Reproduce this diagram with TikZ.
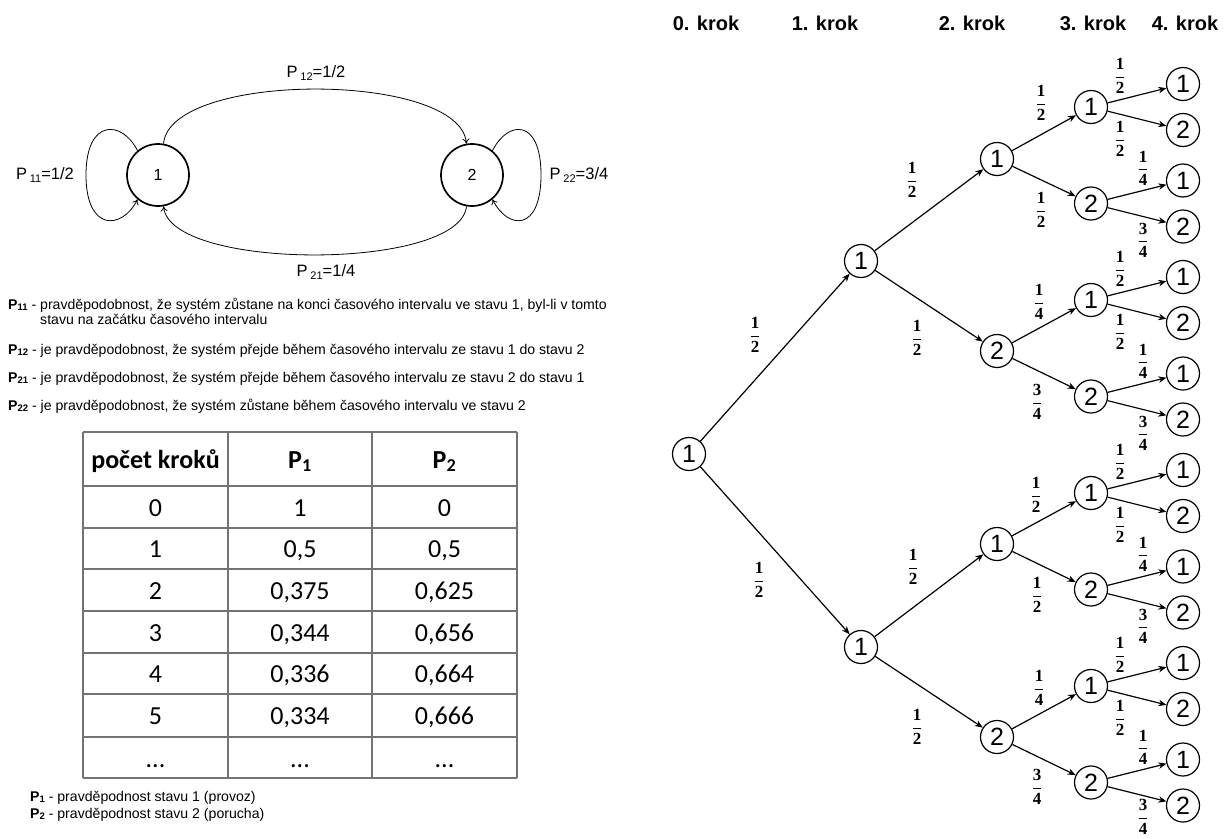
\documentclass[tikz,border=0pt]{standalone}
\usepackage{amsmath}
\usepackage{fontspec}
\setmainfont{Liberation Sans}
\newfontfamily\calibri{Carlito}
\newfontfamily\frfont{Liberation Serif}
\usetikzlibrary{arrows.meta}

% bold stacked fraction used on the tree edges
\newcommand\fr[2]{\ensuremath{\displaystyle\frac{\text{\frfont\bfseries #1}}{\text{\frfont\bfseries #2}}}}
% subscripted transition symbol
\newcommand\psub[1]{P\,\raisebox{-3pt}{\fontsize{11}{11}\selectfont #1}}
\newcommand\pbold[1]{\textbf{P}\raisebox{-1.5pt}{\fontsize{9.5}{10}\selectfont\bfseries #1}}

\begin{document}
\begin{tikzpicture}[x=1pt,y=-1pt,
  statec/.style={circle,draw,line width=1.7pt,minimum size=62pt,inner sep=0pt,font=\fontsize{16}{16}\selectfont},
  sarrow/.style={-{To[length=5pt,width=7pt]},line width=0.8pt},
  slabel/.style={font=\fontsize{16.5}{18}\selectfont,inner sep=0pt},
  desc/.style={anchor=base west,font=\fontsize{14.1}{16}\selectfont,inner sep=0pt},
  tnode/.style={circle,draw,line width=1.2pt,minimum size=33pt,inner sep=0pt,font=\fontsize{25}{25}\selectfont},
  tedge/.style={-{Stealth[length=8pt,width=6.5pt]},line width=1.2pt},
  flab/.style={font=\fontsize{17}{19}\selectfont,inner sep=0pt},
  head/.style={font=\fontsize{20}{22}\selectfont\bfseries,inner sep=0pt},
  tline/.style={draw=black!55,line width=1.3pt},
  cell/.style={font=\calibri\fontsize{26}{28}\selectfont,inner sep=0pt,anchor=base}
]
\useasboundingbox[fill=white] (0,0) rectangle (1228,838);

% ---------- two-state transition diagram ----------
\node[statec] (s1) at (158,175) {1};
\node[statec] (s2) at (472,175) {2};
\draw[sarrow] (s1.80) .. controls (170,71) and (460,71) .. (s2.100);
\draw[sarrow] (s2.-100) .. controls (460,271) and (170,271) .. (s1.-80);
\draw[sarrow] (s1.130) .. controls (122,120) and (86,118) .. (86,175)
                       .. controls (86,232) and (122,230) .. (s1.230);
\draw[sarrow] (s2.50) .. controls (508,120) and (541,118) .. (541,175)
                      .. controls (541,232) and (508,230) .. (s2.-50);
\node[slabel] (l12) at (316,73) {\psub{12}=1/2};
\node[slabel] (l21) at (326,272) {\psub{21}=1/4};
\node[slabel] (l11) at (45,175) {\psub{11}=1/2};
\node[slabel] (l22) at (579,175) {\psub{22}=3/4};

% ---------- explanations ----------
\node[desc] (d11) at (8,309) {\pbold{11} - pravděpodobnost, že systém zůstane na konci časového intervalu ve stavu 1, byl-li v tomto};
\node[desc] (d11b) at (40,324) {stavu na začátku časového intervalu};
\node[desc] (d12) at (8,354) {\pbold{12} - je pravděpodobnost, že systém přejde během časového intervalu ze stavu 1 do stavu 2};
\node[desc] (d21) at (8,382) {\pbold{21} - je pravděpodobnost, že systém přejde během časového intervalu ze stavu 2 do stavu 1};
\node[desc] (d22) at (8,410) {\pbold{22} - je pravděpodobnost, že systém zůstane během časového intervalu ve stavu 2};

% ---------- table ----------
\foreach \yy in {432,486,528,569,611,653,694,737,778}
  \draw[tline] (83,\yy) -- (517,\yy);
\foreach \xx in {83,228,372,517}
  \draw[tline] (\xx,432) -- (\xx,778);
\node[cell] (h0) at (155.5,468) {\bfseries počet kroků};
\node[cell] (h1) at (300,468) {\bfseries P\textsubscript{1}};
\node[cell] (h2) at (444.5,468) {\bfseries P\textsubscript{2}};
\node[cell] (r0a) at (155.5,516) {0};  \node[cell] (r0b) at (300,516) {1};     \node[cell] (r0c) at (444.5,516) {0};
\node[cell] (r1a) at (155.5,557) {1};  \node[cell] (r1b) at (300,557) {0,5};   \node[cell] (r1c) at (444.5,557) {0,5};
\node[cell] (r2a) at (155.5,599) {2};  \node[cell] (r2b) at (300,599) {0,375}; \node[cell] (r2c) at (444.5,599) {0,625};
\node[cell] (r3a) at (155.5,641) {3};  \node[cell] (r3b) at (300,641) {0,344}; \node[cell] (r3c) at (444.5,641) {0,656};
\node[cell] (r4a) at (155.5,682) {4};  \node[cell] (r4b) at (300,682) {0,336}; \node[cell] (r4c) at (444.5,682) {0,664};
\node[cell] (r5a) at (155.5,724) {5};  \node[cell] (r5b) at (300,724) {0,334}; \node[cell] (r5c) at (444.5,724) {0,666};
\node[cell] (r6a) at (155.5,767) {...};\node[cell] (r6b) at (300,767) {...};   \node[cell] (r6c) at (444.5,767) {...};

% ---------- legend ----------
\node[desc] (lg1) at (30,801) {\pbold{1} - pravděpodnost stavu 1 (provoz)};
\node[desc] (lg2) at (30,818) {\pbold{2} - pravděpodnost stavu 2 (porucha)};

% ---------- probability tree ----------
\node[head] (k0) at (706,23) {0. krok};
\node[head] (k1) at (825,23) {1. krok};
\node[head] (k2) at (972,23) {2. krok};
\node[head] (k3) at (1093,23) {3. krok};
\node[head] (k4) at (1185,23) {4. krok};

\node[tnode] (R) at (689,454) {1};
\node[tnode] (A) at (861,261) {1};
\node[tnode] (B) at (861,647) {1};
\node[tnode] (C1) at (997,159) {1};
\node[tnode] (C2) at (997,351) {2};
\node[tnode] (C3) at (997,544) {1};
\node[tnode] (C4) at (997,737) {2};
\foreach \k/\yy/\s in {1/107/1,2/203.5/2,3/300/1,4/396.5/2,5/493/1,6/589.5/2,7/686/1,8/782.5/2}{
  \node[tnode] (D\k) at (1091,\yy) {\s};
  \node[tnode] (E\k a) at (1183,\yy-23) {1};
  \node[tnode] (E\k b) at (1183,\yy+23) {2};
  \draw[tedge] (D\k) -- (E\k a);
  \draw[tedge] (D\k) -- (E\k b);
}
\draw[tedge] (R) -- (A);
\draw[tedge] (R) -- (B);
\draw[tedge] (A) -- (C1);
\draw[tedge] (A) -- (C2);
\draw[tedge] (B) -- (C3);
\draw[tedge] (B) -- (C4);
\draw[tedge] (C1) -- (D1);
\draw[tedge] (C1) -- (D2);
\draw[tedge] (C2) -- (D3);
\draw[tedge] (C2) -- (D4);
\draw[tedge] (C3) -- (D5);
\draw[tedge] (C3) -- (D6);
\draw[tedge] (C4) -- (D7);
\draw[tedge] (C4) -- (D8);

% edge probabilities
\node[flab] at (755,335) {\fr12};
\node[flab] at (759,580) {\fr12};
\node[flab] at (912,180) {\fr12};
\node[flab] at (917,338) {\fr12};
\node[flab] at (913,567) {\fr12};
\node[flab] at (917,727) {\fr12};
\node[flab] at (1041,103) {\fr12};
\node[flab] at (1041,210) {\fr12};
\node[flab] at (1039,302) {\fr14};
\node[flab] at (1037,402) {\fr34};
\node[flab] at (1036,495) {\fr12};
\node[flab] at (1037,595) {\fr12};
\node[flab] at (1039,688) {\fr14};
\node[flab] at (1037,787) {\fr34};
\foreach \yy in {107,300,493,686}{
  \node[flab] at (1120,\yy-31) {\fr12};
  \node[flab] at (1120,\yy+32) {\fr12};
}
\foreach \yy in {203.5,396.5,589.5}{
  \node[flab] at (1143,\yy-35) {\fr14};
  \node[flab] at (1143,\yy+37) {\fr34};
}
\node[flab] at (1143,747.5) {\fr14};
\node[flab] at (1143,817) {\fr34};
\end{tikzpicture}
\end{document}
